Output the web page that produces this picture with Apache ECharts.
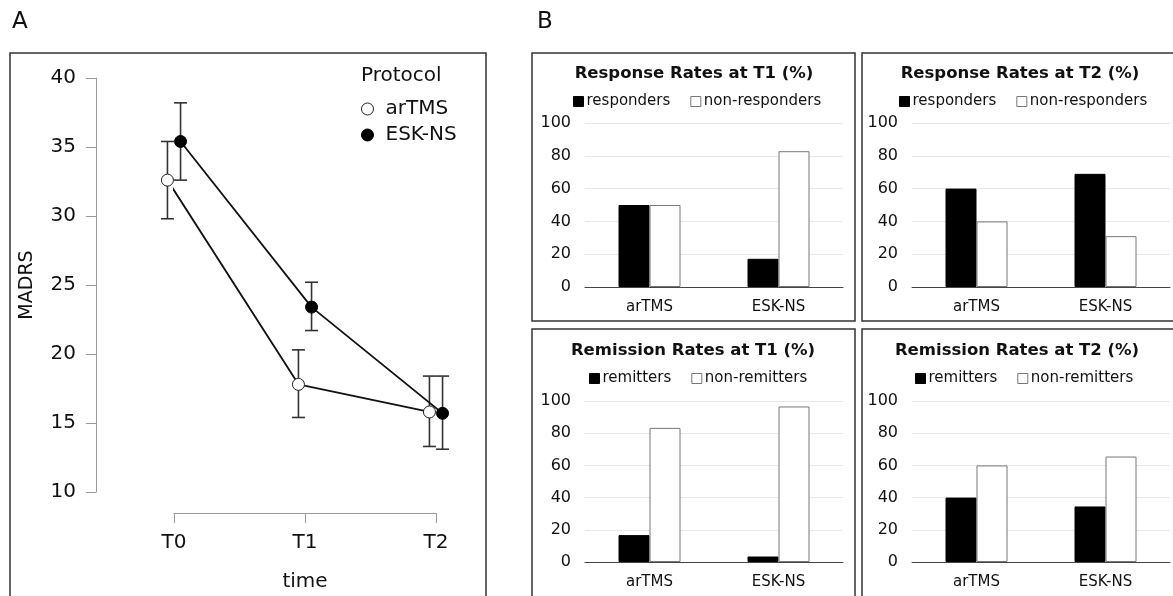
<!DOCTYPE html>
<html><head><meta charset="utf-8">
<script src="https://cdn.jsdelivr.net/npm/echarts@6/dist/echarts.min.js"></script>
<style>html,body{margin:0;padding:0;background:#fff}#c{width:1173px;height:596px}</style>
</head><body><div id="c"></div>
<script>
// Panel A data
const timepoints = ['T0', 'T1', 'T2'];
const arTMSMean = [32.6, 17.8, 15.8];
const arTMSLow  = [29.8, 15.4, 13.3];
const arTMSHigh = [35.4, 20.3, 18.4];
const eskMean = [35.4, 23.4, 15.7];
const eskLow  = [32.6, 21.7, 13.1];
const eskHigh = [38.2, 25.2, 18.4];
const madrsTicks = [10, 40, 5];

// Panel B data
const groups = ['arTMS', 'ESK-NS'];
const respT1Yes = [50, 17.2];
const respT1No  = [50, 82.8];
const respT2Yes = [60, 69.0];
const respT2No  = [40, 31.0];
const remT1Yes = [16.7, 3.4];
const remT1No  = [83.3, 96.6];
const remT2Yes = [40, 34.5];
const remT2No  = [60, 65.5];

const FONT = 'DejaVu Sans';
const chart = echarts.init(document.getElementById('c'), null, {renderer: 'canvas'});

const dodge = 0.05;
function pts(mean, off) { return mean.map((v, i) => [i + off, v]); }
function errs(lo, hi, off) { return lo.map((v, i) => [i + off, v, hi[i]]); }

function errRender(params, api) {
  const x = api.value(0), lo = api.value(1), hi = api.value(2);
  const a = api.coord([x, hi]), b = api.coord([x, lo]);
  const w = 6.5;
  const st = {stroke: '#333', lineWidth: 1.6};
  return {type: 'group', children: [
    {type: 'line', shape: {x1: a[0], y1: a[1], x2: b[0], y2: b[1]}, style: st},
    {type: 'line', shape: {x1: a[0] - w, y1: a[1], x2: a[0] + w, y2: a[1]}, style: st},
    {type: 'line', shape: {x1: b[0] - w, y1: b[1], x2: b[0] + w, y2: b[1]}, style: st}
  ]};
}

// bar panels
const panels = [
  {title: 'Response Rates at T1 (%)', yes: 'responders', no: 'non-responders', dy: respT1Yes, dn: respT1No, left: 585, right: 330, top: 123, bottom: 309, cx: 694, ty: 65, lx: 573, ly: 94},
  {title: 'Response Rates at T2 (%)', yes: 'responders', no: 'non-responders', dy: respT2Yes, dn: respT2No, left: 912, right: 3, top: 123, bottom: 309, cx: 1020, ty: 65, lx: 899, ly: 94},
  {title: 'Remission Rates at T1 (%)', yes: 'remitters', no: 'non-remitters', dy: remT1Yes, dn: remT1No, left: 585, right: 330, top: 401, bottom: 34, cx: 693, ty: 342, lx: 589, ly: 371},
  {title: 'Remission Rates at T2 (%)', yes: 'remitters', no: 'non-remitters', dy: remT2Yes, dn: remT2No, left: 912, right: 3, top: 401, bottom: 34, cx: 1017, ty: 342, lx: 915, ly: 371}
];

const grids = [{left: 174, right: 737, top: 78, bottom: 104, outerBoundsMode: 'none', containLabel: false}];
const xAxes = [{
  gridIndex: 0, type: 'value', min: 0, max: 2, interval: 1, offset: 21,
  axisLine: {show: true, onZero: false, lineStyle: {color: '#999', width: 1}},
  axisTick: {show: true, inside: false, length: 10, lineStyle: {color: '#999'}},
  splitLine: {show: false},
  axisLabel: {formatter: v => timepoints[v] || '', fontFamily: FONT, fontSize: 20, color: '#111', margin: 20},
  name: 'time', nameLocation: 'middle', nameGap: 59,
  nameTextStyle: {fontFamily: FONT, fontSize: 20, color: '#111'}
}];
const yAxes = [{
  gridIndex: 0, type: 'value', min: madrsTicks[0], max: madrsTicks[1], interval: madrsTicks[2], offset: 78,
  axisLine: {show: true, onZero: false, lineStyle: {color: '#999', width: 1}},
  axisTick: {show: true, inside: false, length: 10, lineStyle: {color: '#999'}},
  splitLine: {show: false},
  axisLabel: {fontFamily: FONT, fontSize: 20, color: '#111', margin: 20},
  name: 'MADRS', nameLocation: 'middle', nameGap: 59, nameRotate: 90,
  nameTextStyle: {fontFamily: FONT, fontSize: 19, color: '#111'}
}];
const series = [
  {type: 'custom', name: 'errA', xAxisIndex: 0, yAxisIndex: 0, renderItem: errRender, data: errs(arTMSLow, arTMSHigh, -dodge), z: 1, silent: true, clip: false},
  {type: 'custom', name: 'errE', xAxisIndex: 0, yAxisIndex: 0, renderItem: errRender, data: errs(eskLow, eskHigh, dodge), z: 1, silent: true, clip: false},
  {type: 'line', name: 'arTMS', xAxisIndex: 0, yAxisIndex: 0, data: pts(arTMSMean, -dodge), clip: false,
   symbol: 'circle', symbolSize: 12, lineStyle: {color: '#111', width: 1.8},
   itemStyle: {color: '#fff', borderColor: '#222', borderWidth: 1}, z: 3},
  {type: 'line', name: 'ESK-NS', xAxisIndex: 0, yAxisIndex: 0, data: pts(eskMean, dodge), clip: false,
   symbol: 'circle', symbolSize: 12, lineStyle: {color: '#111', width: 1.8},
   itemStyle: {color: '#000', borderColor: '#000', borderWidth: 1}, z: 3}
];
const titles = [
  {text: 'A', left: 12, top: 11, padding: 0, textStyle: {fontFamily: FONT, fontSize: 23, fontWeight: 'normal', color: '#111'}},
  {text: 'B', left: 537, top: 11, padding: 0, textStyle: {fontFamily: FONT, fontSize: 23, fontWeight: 'normal', color: '#111'}},
  {text: 'Protocol', left: 361, top: 66, padding: 0, textStyle: {fontFamily: FONT, fontSize: 20, fontWeight: 'normal', color: '#111'}}
];
const legends = [{
  orient: 'vertical', left: 361, top: 99, padding: 0, itemWidth: 12, itemHeight: 12, itemGap: 6,
  textStyle: {fontFamily: FONT, fontSize: 20, color: '#111', padding: [0, 0, 0, 7]},
  data: [
    {name: 'arTMS', icon: 'circle', itemStyle: {color: '#fff', borderColor: '#222', borderWidth: 1}},
    {name: 'ESK-NS', icon: 'circle', itemStyle: {color: '#000', borderColor: '#000', borderWidth: 1}}
  ]
}];

panels.forEach((p, k) => {
  const gi = k + 1;
  grids.push({left: p.left, right: p.right, top: p.top, bottom: p.bottom, outerBoundsMode: 'none', containLabel: false});
  xAxes.push({
    gridIndex: gi, type: 'category', data: groups,
    axisLine: {show: true, lineStyle: {color: '#444', width: 1}},
    axisTick: {show: false},
    axisLabel: {fontFamily: FONT, fontSize: 15, color: '#111', margin: 13}
  });
  yAxes.push({
    gridIndex: gi, type: 'value', min: 0, max: 100, interval: 20,
    axisLine: {show: false}, axisTick: {show: false},
    splitLine: {show: true, lineStyle: {color: '#e8e8e8', width: 1}},
    axisLabel: {fontFamily: FONT, fontSize: 16, color: '#111', margin: 14}
  });
  series.push(
    {type: 'bar', name: p.yes, xAxisIndex: gi, yAxisIndex: gi, data: p.dy, barWidth: 31, barGap: '0%',
     itemStyle: {color: '#000', borderColor: '#000', borderWidth: 1}},
    {type: 'bar', name: p.no, xAxisIndex: gi, yAxisIndex: gi, data: p.dn, barWidth: 31, barGap: '0%',
     itemStyle: {color: '#fff', borderColor: '#777', borderWidth: 1}}
  );
  titles.push({text: p.title, left: p.cx, textAlign: 'center', top: p.ty, padding: 0,
    textStyle: {fontFamily: FONT, fontSize: 16.5, fontWeight: 'bold', color: '#111'}});
  legends.push({
    left: p.lx, top: p.ly, width: 300, padding: 0, orient: 'horizontal', itemWidth: 10, itemHeight: 10, itemGap: 20,
    textStyle: {fontFamily: FONT, fontSize: 15, color: '#111', padding: [0, 0, 0, -2]},
    data: [
      {name: p.yes, icon: 'rect', itemStyle: {color: '#000', borderColor: '#000', borderWidth: 1}},
      {name: p.no, icon: 'rect', itemStyle: {color: '#fff', borderColor: '#777', borderWidth: 1}}
    ]
  });
});

const frame = {stroke: '#333', lineWidth: 1.5, fill: 'none'};
const graphic = [
  {type: 'rect', shape: {x: 10, y: 53, width: 476, height: 560}, style: frame, silent: true},
  {type: 'rect', shape: {x: 532, y: 53, width: 323, height: 268}, style: frame, silent: true},
  {type: 'rect', shape: {x: 862, y: 53, width: 320, height: 268}, style: frame, silent: true},
  {type: 'rect', shape: {x: 532, y: 329, width: 323, height: 280}, style: frame, silent: true},
  {type: 'rect', shape: {x: 862, y: 329, width: 320, height: 280}, style: frame, silent: true}
];

chart.setOption({
  animation: false,
  backgroundColor: '#fff',
  title: titles, legend: legends, grid: grids, xAxis: xAxes, yAxis: yAxes, series: series, graphic: graphic
});
</script>
</body></html>
